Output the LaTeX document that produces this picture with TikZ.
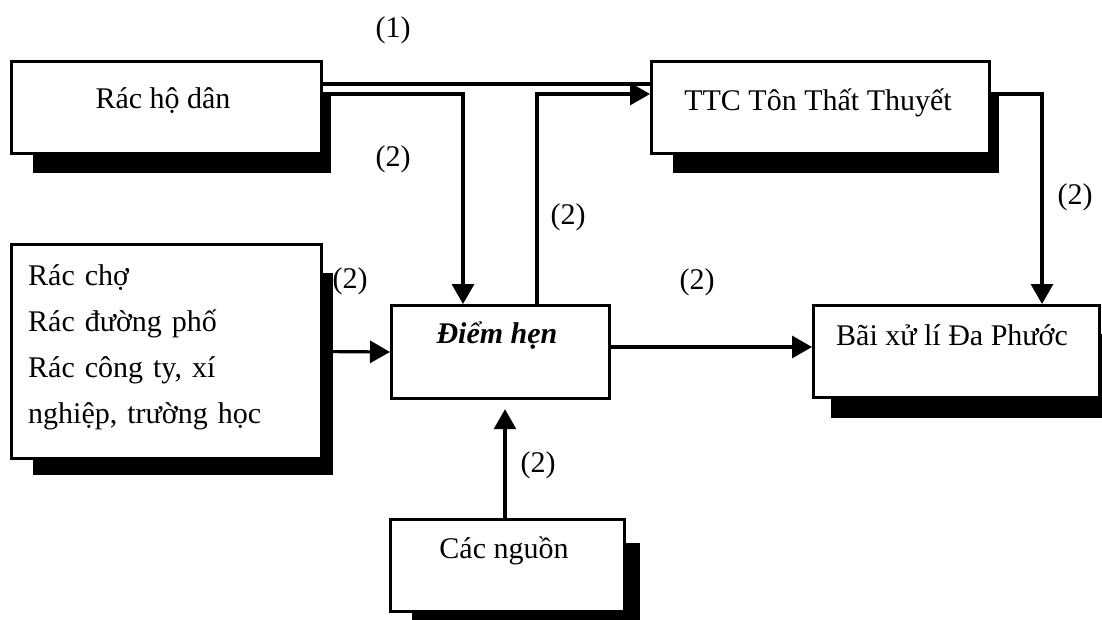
\documentclass[tikz,border=0pt]{standalone}
\usepackage{fontspec}
\setmainfont{Liberation Serif}
\usetikzlibrary{arrows.meta,calc,backgrounds}
\begin{document}
\begin{tikzpicture}[x=1pt,y=-1pt,
  box/.style={draw=black,line width=3.2pt,fill=white,rectangle,inner sep=0pt,anchor=north west},
  shadowbar/.style={fill=black},
  txt/.style={font=\fontsize{30}{46}\selectfont,inner sep=0pt},
  lab/.style={font=\fontsize{30}{36}\selectfont,inner sep=0pt},
  wire/.style={draw=black,line width=3.2pt},
  arr/.style={wire,-{Triangle[length=20pt,width=22pt]}}
]
\useasboundingbox (0,0) rectangle (1102,619);
\clip (0,0) rectangle (1102,619);

% boxes
\node[box,minimum width=310pt,minimum height=92pt]  (hd)  at (10,60)   {};
\node[box,minimum width=338pt,minimum height=92pt]  (ttc) at (650,60)  {};
\node[box,minimum width=310pt,minimum height=214pt] (cho) at (10,243)  {};
\node[box,minimum width=218pt,minimum height=93pt]  (dh)  at (390,304) {};
\node[box,minimum width=286pt,minimum height=92pt]  (bxl) at (812,304) {};
\node[box,minimum width=234pt,minimum height=92pt]  (cn)  at (389,518) {};

% shadows
\begin{scope}[on background layer]
  \clip (0,0) rectangle (1102,619);
  \fill[shadowbar] ($(hd.south west)+(23,18)$)  rectangle ($(hd.north east)+(8,35)$);
  \fill[shadowbar] ($(ttc.south west)+(23,18)$) rectangle ($(ttc.north east)+(8,35)$);
  \fill[shadowbar] ($(cho.south west)+(23,15)$) rectangle ($(cho.north east)+(10,30)$);
  \fill[shadowbar] ($(bxl.south west)+(19,19)$) rectangle ($(bxl.north east)+(14,30)$);
  \fill[shadowbar] ($(cn.south west)+(23,18)$)  rectangle ($(cn.north east)+(14,25)$);
\end{scope}

% texts
\node[txt,anchor=base] (thd)  at (163,108) {Rác hộ dân};
\node[txt,anchor=base] (tttc) at (818,110) {TTC Tôn Thất Thuyết};
\node[txt,anchor=base west,text width=290pt,align=left] (tcho) at (28,285)
  {Rác chợ\\Rác đường phố\\Rác công ty, xí\\nghiệp, trường học};
\node[txt,anchor=base,font=\fontsize{30}{46}\selectfont\bfseries\itshape] (tdh) at (497,343) {Điểm hẹn};
\node[txt,anchor=base west] (tbxl) at (836,345) {Bãi xử lí Đa Phước};
\node[txt,anchor=base] (tcn) at (504,558) {Các nguồn};

% junction coordinates
\coordinate (y1) at (0,84);
\coordinate (y2) at (0,94);
\coordinate (xa) at (463,0);
\coordinate (xb) at (537,0);
\coordinate (xc) at (1042,0);
\coordinate (xd) at (505,0);
\coordinate (j1) at (463,94);
\coordinate (j2) at (537,94);
\coordinate (j3) at (1042,94);

% connectors
\draw[wire] (hd.east |- y1) -- (ttc.west |- y1);
\draw[arr] (hd.east |- y2) -- (j1) -- (dh.north -| xa);
\draw[arr] (dh.north -| xb) -- (j2) -- (ttc.west |- j2);
\draw[arr] (ttc.east |- y2) -- (j3) -- (bxl.north -| xc);
\draw[arr] ($(cho.east)+(10,0)$ |- 0,352) -- (dh.west |- 0,352);
\draw[arr] (dh.east |- 0,347) -- (bxl.west |- 0,347);
\draw[arr,shorten >=9pt] (cn.north -| xd) -- (dh.south -| xd);

% labels
\node[lab] (l1) at (393,30)   {(1)};
\node[lab] (l2) at (393,159)  {(2)};
\node[lab] (l3) at (568,217)  {(2)};
\node[lab] (l4) at (1075,197) {(2)};
\node[lab] (l5) at (350,281)  {(2)};
\node[lab] (l6) at (697,282)  {(2)};
\node[lab] (l7) at (538,465)  {(2)};
\end{tikzpicture}
\end{document}
